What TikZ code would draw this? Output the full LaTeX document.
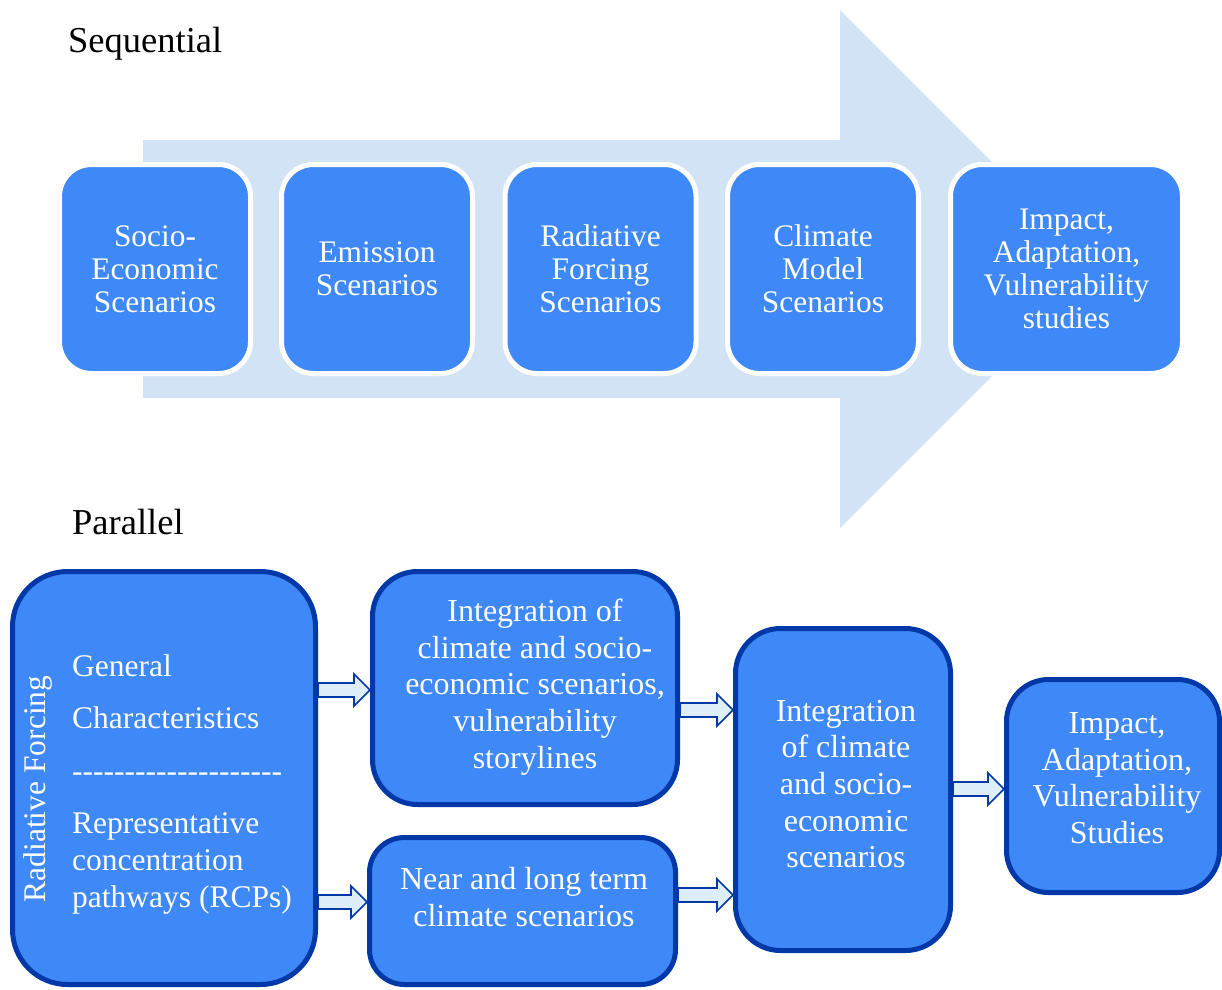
\documentclass[tikz,border=0pt]{standalone}
\usepackage{fontspec}
\setmainfont{Liberation Serif}
\usetikzlibrary{calc}
\definecolor{boxblue}{RGB}{62,137,247}
\definecolor{bandblue}{RGB}{211,227,246}
\definecolor{darkblue}{RGB}{0,56,168}
\definecolor{arrowfill}{RGB}{221,238,250}
\tikzset{
  seqbox/.style={rectangle, rounded corners=32pt, fill=boxblue, draw=white, line width=5pt,
    inner sep=0pt, minimum width=191pt, minimum height=209pt, text=white, align=center,
    font=\fontsize{31.4}{32.8}\selectfont},
  parbox/.style={rectangle, fill=boxblue, draw=darkblue, line width=5pt, inner sep=0pt},
  boxtext/.style={text=white, align=center, inner sep=0pt, font=\fontsize{32}{36.6}\selectfont},
  lefttext/.style={text=white, anchor=base west, inner sep=0pt, font=\fontsize{31.5}{36}\selectfont},
  heading/.style={anchor=base west, inner sep=0pt, font=\fontsize{36.5}{40}\selectfont},
  blockarr/.style={fill=arrowfill, draw=darkblue, line width=1.6pt, line join=miter},
}
\newcommand{\blockarrow}[3]{%
  \draw[blockarr] let \p1=(#1.east), \p2=(#2.west), \p3=(0,#3) in
    (\x1,\y3+7pt) -- (\x2-16pt,\y3+7pt) -- (\x2-16pt,\y3+16pt) -- (\x2,\y3)
    -- (\x2-16pt,\y3-16pt) -- (\x2-16pt,\y3-7pt) -- (\x1,\y3-7pt) -- cycle;}
\newcommand{\hy}{\mbox{-}}
\begin{document}
\begin{tikzpicture}[x=1pt,y=-1pt]
\useasboundingbox (0,0) rectangle (1222,989);

% ---------- Sequential ----------
\node[heading] (seqlabel) at (68,52) {Sequential};
\fill[bandblue] (143,140) -- (840,140) -- (840,10) -- (1099,269) -- (840,528)
  -- (840,398) -- (143,398) -- cycle;

\node[seqbox] (s1) at (155,269) {Socio-\\Economic\\Scenarios};
\node[seqbox] (s2) at (377,269) {Emission\\Scenarios};
\node[seqbox] (s3) at (600.5,269) {Radiative\\Forcing\\Scenarios};
\node[seqbox] (s4) at (823,269) {Climate\\Model\\Scenarios};
\node[seqbox, minimum width=232pt] (s5) at (1066.5,269) {Impact,\\Adaptation,\\Vulnerability\\studies};

% ---------- Parallel ----------
\node[heading] (parlabel) at (72,534) {Parallel};

\node[parbox, rounded corners=55pt, minimum width=303pt, minimum height=413pt] (rf) at (164,778) {};
\node[parbox, rounded corners=45pt, minimum width=305pt, minimum height=233pt] (int1) at (525,688) {};
\node[parbox, rounded corners=35pt, minimum width=306pt, minimum height=147pt] (near) at (522.5,911) {};
\node[parbox, rounded corners=45pt, minimum width=215pt, minimum height=322pt] (int2) at (843,789.5) {};
\node[parbox, rounded corners=42pt, minimum width=213pt, minimum height=213pt] (iav) at (1113,786) {};

% texts of the left box
\node[text=white, rotate=90, inner sep=0pt, font=\fontsize{31.5}{36}\selectfont] (rflabel) at (38,789) {Radiative Forcing};
\node[lefttext] (rfg1) at (72,676) {General};
\node[lefttext] (rfg2) at (72,728) {Characteristics};
\node[lefttext] (rfdash) at (72,781) {\hy\hy\hy\hy\hy\hy\hy\hy\hy\hy\hy\hy\hy\hy\hy\hy\hy\hy\hy\hy};
\node[lefttext] (rfr1) at (72,833) {Representative};
\node[lefttext] (rfr2) at (72,870) {concentration};
\node[lefttext] (rfr3) at (72,907) {pathways (RCPs)};

% texts of the other boxes
\node[boxtext] (int1text) at (535,687) {Integration of\\climate and socio-\\economic scenarios,\\vulnerability\\storylines};
\node[boxtext] (neartext) at (524,897) {Near and long term\\climate scenarios};
\node[boxtext] (int2text) at (846,784) {Integration\\of climate\\and socio-\\economic\\scenarios};
\node[boxtext] (iavtext) at (1117,778) {Impact,\\Adaptation,\\Vulnerability\\Studies};

% block arrows
\blockarrow{rf}{int1}{690}
\blockarrow{rf}{near}{902}
\blockarrow{int1}{int2}{710}
\blockarrow{near}{int2}{895}
\blockarrow{int2}{iav}{789}
\end{tikzpicture}
\end{document}
